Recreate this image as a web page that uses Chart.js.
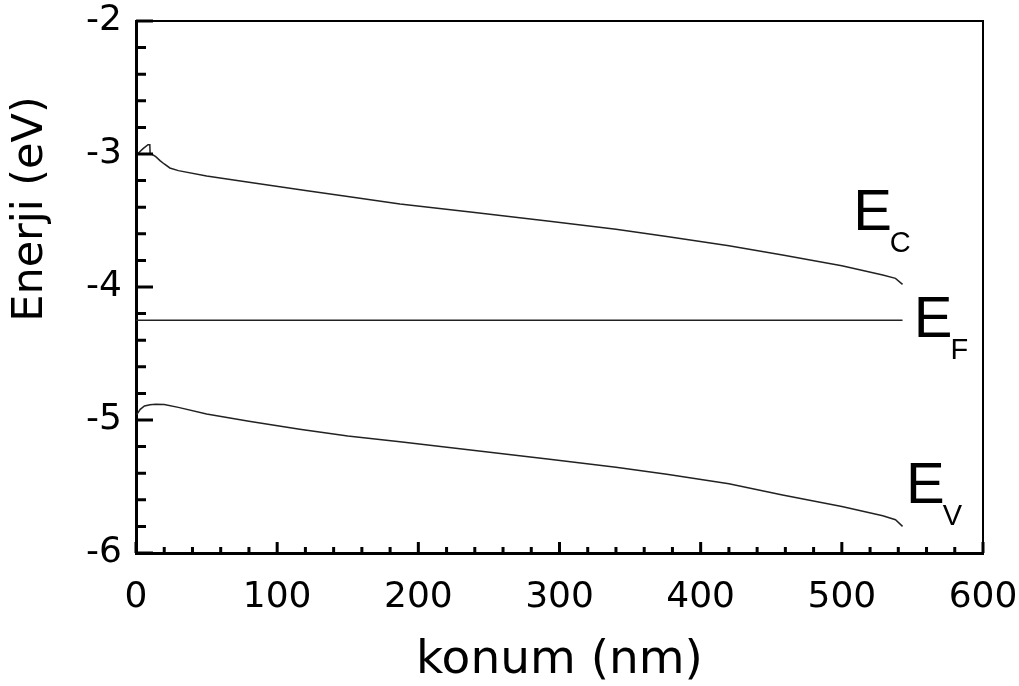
<!DOCTYPE html>
<html>
<head>
<meta charset="utf-8">
<script src="https://cdn.jsdelivr.net/npm/chart.js@4.4.1/dist/chart.umd.min.js"></script>
<style>
html,body{margin:0;padding:0;background:#fff;}
#wrap{width:1019px;height:686px;position:relative;}
</style>
</head>
<body>
<div id="wrap"><canvas id="c" width="1019" height="686"></canvas></div>
<script>
// Conduction band E_C
const ecX = [1, 5, 8.5, 9.8, 10, 1, 11, 14, 17, 20, 24, 30, 50, 80, 120, 150, 187, 240, 293, 340, 376, 420, 458, 500, 529, 538, 543];
const ecY = [-3.0, -2.96, -2.93, -2.93, -3.0, -3.0, -3.0, -3.02, -3.05, -3.075, -3.105, -3.125, -3.165, -3.213, -3.275, -3.32, -3.376, -3.44, -3.505, -3.565, -3.62, -3.69, -3.76, -3.84, -3.91, -3.935, -3.98];
// Fermi level E_F
const efX = [0, 543];
const efY = [-4.25, -4.25];
// Valence band E_V
const evX = [0.5, 3, 6, 10, 14, 20, 30, 50, 80, 116, 150, 187, 240, 293, 340, 376, 420, 458, 500, 529, 538, 543];
const evY = [-4.96, -4.92, -4.895, -4.885, -4.882, -4.883, -4.905, -4.955, -5.01, -5.07, -5.12, -5.163, -5.23, -5.295, -5.355, -5.408, -5.48, -5.564, -5.65, -5.72, -5.75, -5.8];

const xTicks = [0, 100, 200, 300, 400, 500, 600];
const yTicks = [-6, -5, -4, -3, -2];

const xTitle = 'konum (nm)';
const yTitle = 'Enerji (eV)';

// band labels: main letter, subscript, anchor in data coords
const labelMain = ['E', 'E', 'E'];
const labelSub = ['C', 'F', 'V'];
const labelX = [508, 551, 545.5];
const labelY = [-3.571, -4.375, -5.624];

const toPts = (xs, ys) => xs.map((x, i) => ({x: x, y: ys[i]}));

const lineDs = (label, xs, ys) => ({
  label: label,
  data: toPts(xs, ys),
  showLine: true,
  borderColor: '#222',
  borderWidth: 1.5,
  pointRadius: 0,
  tension: 0,
  fill: false
});

const decor = {
  id: 'decor',
  afterDraw(chart) {
    const ctx = chart.ctx;
    const a = chart.chartArea;
    const xs = chart.scales.x, ys = chart.scales.y;
    ctx.save();
    ctx.strokeStyle = '#000';
    // top & right frame
    ctx.lineWidth = 2;
    ctx.beginPath();
    ctx.moveTo(a.left, a.top); ctx.lineTo(a.right, a.top); ctx.lineTo(a.right, a.bottom);
    ctx.stroke();
    // inward ticks
    ctx.lineWidth = 3;
    ctx.beginPath();
    for (let v = xs.min; v <= xs.max + 1e-9; v += 20) {
      const px = xs.getPixelForValue(v);
      const major = Math.abs(v % 100) < 1e-6;
      const len = major ? 11 : 6;
      ctx.moveTo(px, a.bottom); ctx.lineTo(px, a.bottom - len);
    }
    for (let v = ys.min; v <= ys.max + 1e-9; v += 0.2) {
      const py = ys.getPixelForValue(v);
      const major = Math.abs(v - Math.round(v)) < 1e-6;
      const len = major ? 17 : 10;
      ctx.moveTo(a.left, py); ctx.lineTo(a.left + len, py);
    }
    ctx.stroke();
    // y-axis title
    ctx.fillStyle = '#000';
    ctx.save();
    ctx.translate(31, 209);
    ctx.rotate(-Math.PI / 2);
    ctx.textAlign = 'center';
    ctx.textBaseline = 'middle';
    ctx.font = '43px "DejaVu Sans", sans-serif';
    ctx.fillText(yTitle, 0, 0);
    ctx.restore();
    // band labels
    ctx.textBaseline = 'alphabetic';
    ctx.textAlign = 'left';
    for (let i = 0; i < labelMain.length; i++) {
      const px = xs.getPixelForValue(labelX[i]);
      const py = ys.getPixelForValue(labelY[i]);
      ctx.font = '58px "Liberation Sans", Arial, sans-serif';
      ctx.fillText(labelMain[i], px, py);
      const w = ctx.measureText(labelMain[i]).width;
      ctx.font = '29px "Liberation Sans", Arial, sans-serif';
      ctx.fillText(labelSub[i], px + w - 2, py + 22);
    }
    ctx.restore();
  }
};

const zeroPad = s => { s.paddingTop = 0; s.paddingBottom = 0; s.paddingLeft = 0; s.paddingRight = 0; };

const tickFont = {family: '"DejaVu Sans", sans-serif', size: 36};
const titleFont = {family: '"DejaVu Sans", sans-serif', size: 47};

new Chart(document.getElementById('c'), {
  type: 'scatter',
  data: {
    datasets: [
      lineDs('E_C', ecX, ecY),
      lineDs('E_F', efX, efY),
      lineDs('E_V', evX, evY)
    ]
  },
  options: {
    responsive: false,
    animation: false,
    layout: {padding: {top: 21, right: 36, left: 0, bottom: 0}},
    plugins: {legend: {display: false}, tooltip: {enabled: false}},
    scales: {
      x: {
        type: 'linear',
        min: 0, max: 600,
        afterFit: s => { s.height = 133; zeroPad(s); },
        afterBuildTicks: s => { s.ticks = xTicks.map(v => ({value: v})); },
        grid: {display: false, drawTicks: false},
        border: {display: true, color: '#000', width: 3},
        ticks: {color: '#000', font: tickFont, padding: 23, maxRotation: 0, autoSkip: false},
        title: {display: true, text: xTitle, color: '#000', font: titleFont, padding: {top: 0, bottom: -3}}
      },
      y: {
        type: 'linear',
        min: -6, max: -2,
        afterFit: s => { s.width = 136; zeroPad(s); },
        afterBuildTicks: s => { s.ticks = yTicks.map(v => ({value: v})); },
        grid: {display: false, drawTicks: false},
        border: {display: true, color: '#000', width: 3},
        ticks: {color: '#000', font: tickFont, padding: 14},
        title: {display: false}
      }
    }
  },
  plugins: [decor]
});
</script>
</body>
</html>
